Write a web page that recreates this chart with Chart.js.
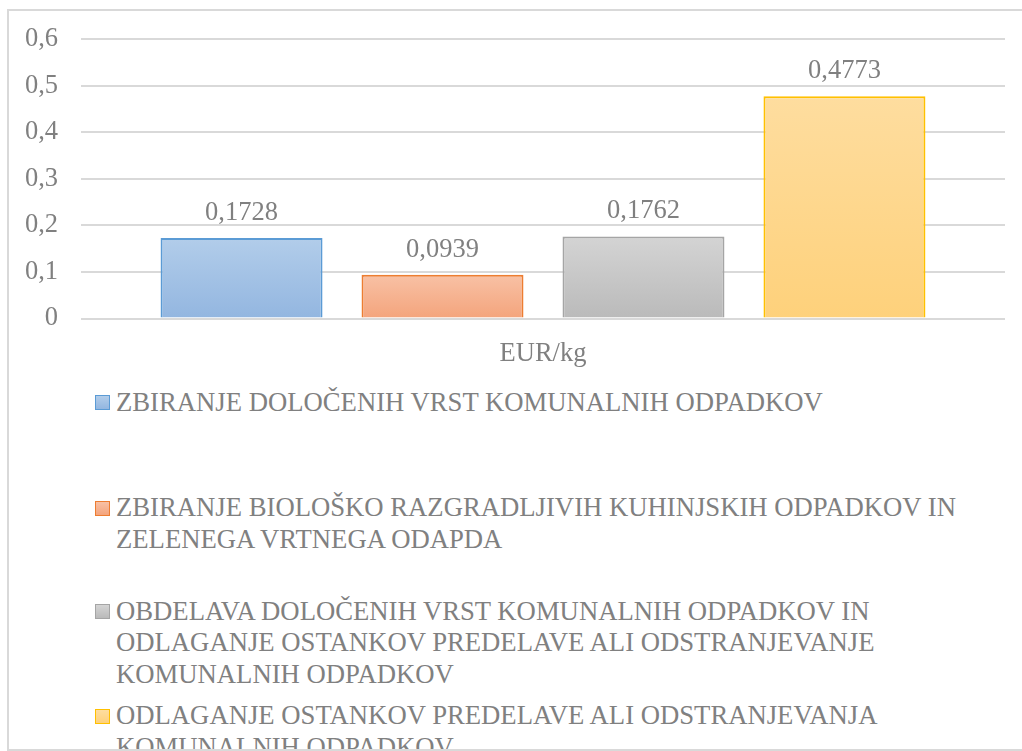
<!DOCTYPE html>
<html><head><meta charset="utf-8">
<script src="https://cdn.jsdelivr.net/npm/chart.js@4.4.1/dist/chart.umd.min.js"></script>
<style>
html,body{margin:0;padding:0;background:#fff;}
#wrap{position:relative;width:1022px;height:751px;overflow:hidden;background:#fff;font-family:"Liberation Serif","Times New Roman",serif;}
#c{position:absolute;left:0;top:0;}
#frame{position:absolute;left:7px;top:9px;width:1040px;height:742px;box-sizing:border-box;border:2px solid #d9d9d9;pointer-events:none;z-index:5;}
.item{position:absolute;left:95px;color:#808080;font-size:26.7px;line-height:31.5px;white-space:nowrap;}
.mk{position:absolute;left:0;top:8.5px;width:15px;height:15px;box-sizing:border-box;border:1.5px solid;}
.tx{position:absolute;left:21px;top:0;}
</style>
</head><body>
<div id="wrap">
<canvas id="c" width="1022" height="370"></canvas>
<div id="legend"></div>
<div id="frame"></div>
</div>
<script>
const categories = ['EUR/kg'];
const seriesNames = [
  ['ZBIRANJE DOLOČENIH VRST KOMUNALNIH ODPADKOV'],
  ['ZBIRANJE BIOLOŠKO RAZGRADLJIVIH KUHINJSKIH ODPADKOV IN', 'ZELENEGA VRTNEGA ODAPDA'],
  ['OBDELAVA DOLOČENIH VRST KOMUNALNIH ODPADKOV IN', 'ODLAGANJE OSTANKOV PREDELAVE ALI ODSTRANJEVANJE', 'KOMUNALNIH ODPADKOV'],
  ['ODLAGANJE OSTANKOV PREDELAVE ALI ODSTRANJEVANJA', 'KOMUNALNIH ODPADKOV']
];
const zbiranjeVrst = [0.1728];
const zbiranjeBio = [0.0939];
const obdelava = [0.1762];
const odlaganje = [0.4773];
const yTickLabels = ['0', '0,1', '0,2', '0,3', '0,4', '0,5', '0,6'];

const FONT = '"Liberation Serif","Times New Roman",serif';
const TXT = '#808080';
const borders = ['#5b9bd5', '#ed7d31', '#a5a5a5', '#ffc000'];
const grads = [['#b2cdea', '#93b6e0'], ['#f8c1a5', '#f4a47c'], ['#d4d4d4', '#bababa'], ['#fedd9f', '#fed17b']];
const legendTops = [386.6, 492.4, 595.6, 700.1];

function gradFill(i) {
  return function(ctx) {
    const chart = ctx.chart;
    if (!chart.chartArea || !chart.scales.y) return grads[i][1];
    const y = chart.scales.y;
    const top = y.getPixelForValue(ctx.raw);
    const bot = y.getPixelForValue(0);
    if (!isFinite(top) || !isFinite(bot) || top === bot) return grads[i][1];
    const g = chart.ctx.createLinearGradient(0, top, 0, bot);
    g.addColorStop(0, grads[i][0]);
    g.addColorStop(1, grads[i][1]);
    return g;
  };
}

const values = [zbiranjeVrst, zbiranjeBio, obdelava, odlaganje];
const datasets = values.map((v, i) => ({
  label: seriesNames[i].join(' '),
  data: v,
  backgroundColor: gradFill(i),
  borderColor: borders[i],
  borderWidth: 2,
  categoryPercentage: 0.87,
  barPercentage: 0.806
}));

const valueLabels = {
  id: 'valueLabels',
  afterDatasetsDraw(chart) {
    const ctx = chart.ctx;
    ctx.save();
    ctx.font = '26.5px ' + FONT;
    ctx.fillStyle = TXT;
    ctx.textAlign = 'center';
    ctx.textBaseline = 'alphabetic';
    chart.data.datasets.forEach((ds, i) => {
      const meta = chart.getDatasetMeta(i);
      meta.data.forEach((bar, j) => {
        const txt = String(ds.data[j]).replace('.', ',');
        ctx.fillText(txt, bar.x, bar.y - 18);
      });
    });
    ctx.restore();
  }
};

new Chart(document.getElementById('c'), {
  type: 'bar',
  data: { labels: categories, datasets },
  plugins: [valueLabels],
  options: {
    responsive: false,
    animation: false,
    devicePixelRatio: 1,
    layout: { padding: { top: 39, right: 17, left: 0, bottom: 0 } },
    plugins: { legend: { display: false }, tooltip: { enabled: false } },
    scales: {
      x: {
        grid: { display: false },
        border: { display: false },
        ticks: { color: TXT, font: { family: FONT, size: 26.5 }, padding: 12 },
        afterFit(s) { s.height = 51.5; }
      },
      y: {
        min: 0, max: 0.6,
        ticks: {
          stepSize: 0.1, padding: 23, color: TXT, font: { family: FONT, size: 26.5 },
          callback: (v, idx) => yTickLabels[idx]
        },
        grid: { color: '#d9d9d9', lineWidth: 2, drawTicks: false },
        border: { display: false },
        afterFit(s) { s.width = 81; }
      }
    }
  }
});

const leg = document.getElementById('legend');
seriesNames.forEach((lines, i) => {
  const it = document.createElement('div');
  it.className = 'item';
  it.style.top = legendTops[i] + 'px';
  const mk = document.createElement('div');
  mk.className = 'mk';
  mk.style.borderColor = borders[i];
  mk.style.background = 'linear-gradient(' + grads[i][0] + ',' + grads[i][1] + ')';
  const tx = document.createElement('div');
  tx.className = 'tx';
  tx.innerHTML = lines.map(l => l.replace(/&/g, '&amp;').replace(/</g, '&lt;')).join('<br>');
  it.appendChild(mk);
  it.appendChild(tx);
  leg.appendChild(it);
});
</script>
</body></html>
